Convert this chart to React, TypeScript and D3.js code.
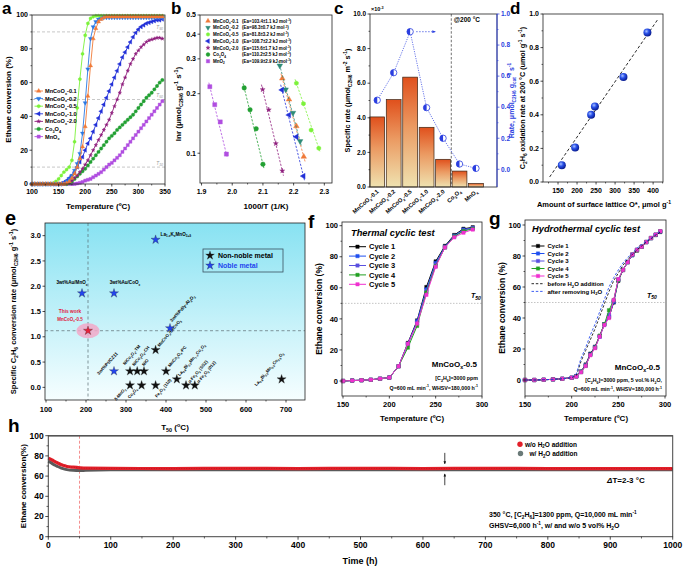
import React from "react";
import * as d3 from "d3";

const FF = "'Liberation Sans', Arial, Helvetica, sans-serif";

// ================= DATA =================
// Panel a: light-off curves
const aTemps = [100,105,110,115,120,125,130,135,140,145,150,155,160,165,170,175,180,185,190,195,200,205,210,215,220,225,230,235,240,245,250,255,260,265,270,275,280,285,290,295,300,305,310,315,320,325,330,335,340,345];
const aS01 = [0,0,0,0,0,0,0,0,0,0, 0,0,0,0.5,1.5,3.5,6,10,15,22, 34,52,70,86,92,96,97.5,98.5,99,99, 99,99,99,99,99,99,99,99,99,99, 99,99,99,99,99,99,99,99,99,99];
const aS02 = [0,0,0,0,0,0,0,0,0,0, 0,0,0.5,1.5,3,5,8,12,18,30, 48,68,86,93,96,97.5,98,98.5,98.5,98.5, 98.5,98.5,98.5,98.5,98.5,98.5,98.5,98.5,98.5,98.5, 98.5,98.5,98.5,98.5,98.5,98.5,98.5,98.5,98.5,98.5];
const aS05 = [0,0,0,0,0,0,0,0,0.5,1.5, 3,5,7,8.5,10,14,25,45,62,77, 88,95,98,99,99.5,99.5,99.5,99.5,99.5,99.5, 99.5,99.5,99.5,99.5,99.5,99.5,99.5,99.5,99.5,99.5, 99.5,99.5,99.5,99.5,99.5,99.5,99.5,99.5,99.5,99.5];
const aS10 = [0,0,0,0,0,0,0,0,0,0, 0,0.3,1,2,3.5,5,7,10,13,16, 20,24,27,31,35,39,43,47,51,55, 59,63,67,71,75,78,81,84,87,89.5, 91.5,93,94,95,95.5,96,96.5,97,97,97.5];
const aS20 = [0,0,0,0,0,0,0,0,0,0, 0,0,0,0.5,1,2,3.5,5,7,9, 11.5,14,17,20,23,26,29,32,35,38, 42,46,50,54,59,63,67,71,74,77, 79,81,82.5,84,85,85.5,86,86.5,86.5,86];
const aCo = [0,0,0,0,0,0,0,0,0,0, 0,0,0,0,0.5,1.5,3,4.5,6,7.5, 9,11,13,15,17,19,21,23,25,27, 28.5,30,32,33.5,35,36.5,38,39.5,41,43, 45,47,49,51,52.5,54,56,58,60,61.5];
const aMn = [0,0,0,0,0,0,0,0,0,0, 0,0,0,0,0,0,0,0.3,0.7,1.2, 2,2.5,3,4,5,6,7,8.5,10,11.5, 12.5,14,15.5,17,19,21,23,25,27,29, 31,33,35,37,39,41,43,45,47,49];
const aNames = ["MnCoO_{x}-0.1","MnCoO_{x}-0.2","MnCoO_{x}-0.5","MnCoO_{x}-1.0","MnCoO_{x}-2.0","Co_{3}O_{4}","MnO_{x}"];
const aValues = [aS01, aS02, aS05, aS10, aS20, aCo, aMn];
const aColors = ["#f07a38","#2a78e4","#7cf23a","#2230d8","#8e1c7c","#22a032","#b04ee0"];
const aShapes = ["triUp","triDown","hex","triLeft","star","circle","square"];
const aRefLevels = [90, 50, 10];

// Panel b: Arrhenius
const bNames = ["MnCoO_{x}-0.1","MnCoO_{x}-0.2","MnCoO_{x}-0.5","MnCoO_{x}-1.0","MnCoO_{x}-2.0","Co_{3}O_{4}","MnO_{2}"];
const bEa = ["(Ea=103.4±1.1 kJ mol^{-1})","(Ea=98.3±0.7 kJ mol^{-1})","(Ea=81.8±3.2 kJ mol^{-1})","(Ea=108.7±2.2 kJ mol^{-1})","(Ea=115.6±1.7 kJ mol^{-1})","(Ea=110.2±2.5 kJ mol^{-1})","(Ea=109.9±2.9 kJ mol^{-1})"];
const bX = [
  [2.163,2.185,2.209,2.233],
  [2.155,2.174,2.198,2.221],
  [2.209,2.232,2.257,2.282],
  [2.162,2.185,2.209,2.232],
  [2.099,2.119,2.142,2.163],
  [2.039,2.058,2.078,2.100],
  [1.927,1.943,1.961,1.981],
];
const bY = [
  [0.239,0.187,0.137,0.096],
  [0.277,0.210,0.160,0.115],
  [0.226,0.178,0.131,0.106],
  [0.209,0.156,0.121,0.0766],
  [0.210,0.166,0.112,0.0815],
  [0.214,0.166,0.133,0.088],
  [0.217,0.176,0.144,0.099],
];
const bColors = ["#f07a38","#2e8c78","#7cf23a","#2230d8","#8e1c7c","#22a032","#b04ee0"];
const bShapes = ["triUp","triDown","hex","triLeft","star","circle","square"];

// Panel c: bars + rate
const cCats = ["MnCoO_{x}-0.1","MnCoO_{x}-0.2","MnCoO_{x}-0.5","MnCoO_{x}-1.0","MnCoO_{x}-2.0","Co_{3}O_{4}","MnO_{x}"];
const cSpecific = [4.05, 5.05, 6.35, 3.45, 1.6, 0.92, 0.2];
const cRate = [0.445, 0.622, 0.886, 0.397, 0.2, 0.034, 0.006];

// Panel d
const dO = [160, 195, 237, 247, 322, 385];
const dRate = [0.1, 0.205, 0.40, 0.45, 0.625, 0.89];
const dFitO = [128, 413];
const dFitRate = [0.03, 0.97];

// Panel e
const eNobleT = [190, 270, 374, 410, 270];
const eNobleR = [1.86, 1.86, 2.92, 1.17, 0.32];
const eNobleLabels = ["3wt%Au/MnO_{x}","3wt%Au/CoO_{x}","La_{1-x}K_{x}MnO_{3+δ}","3wt%Pd/γ-Al_{2}O_{3}","3wt%Pt/CZ11"];
const eNonNobleT = [310, 328, 345, 374, 400, 310, 339, 374, 427, 450, 472, 689];
const eNonNobleR = [0.32, 0.32, 0.32, 0.74, 0.32, 0.04, 0.04, 0.04, 0.16, 0.04, 0.04, 0.16];
const eNonNobleLabels = ["NiCo_{2}O_{4}-TM","NiCo_{2}O_{4}-CH","NiO","MnCoO_{x}/FeCoO_{3}","MnCo_{2}O_{4}-PC","δ-MnO_{2}","Co_{3}O_{4}","Fe_{2}O_{3} (110)","La_{0.8}Bi_{0.2}Mn_{1-x}Co_{x}O_{3}","α-Fe_{2}O_{3} (SSZ)","α-Fe_{2}O_{3} (012)","La_{0.8}Bi_{0.2}Mn_{0.5}Co_{0.5}O_{3}"];
const eThisWorkT = 205;
const eThisWorkR = 1.12;

// Panel f
const fTemps = [150,160,170,180,190,200,210,220,230,240,250,260,270,280,290];
const fC1 = [0,0.3,0.5,0.8,1.5,2.2,9.5,24.5,39,60.5,77,87,94,98,99];
const fC2 = [0,0.3,0.5,0.8,1.5,2.2,9.5,24,38.5,59,76,86.5,93.5,97.5,98.5];
const fC3 = [0,0.3,0.5,0.8,1.5,2.2,9.5,23.5,37.5,58,75,86,93,97,98.5];
const fC4 = [0,0.3,0.5,0.8,1.5,2.2,9.5,21.5,35.5,57,74,86,93,96.5,98];
const fC5 = [0,0.3,0.5,0.8,1.5,2.2,9.5,24,37,55.5,73.5,86,92.5,95.5,97.5];
const cycleNames = ["Cycle 1","Cycle 2","Cycle 3","Cycle 4","Cycle 5"];
const cycleColors = ["#000000","#1f4ff0","#5a50e0","#22a022","#f030d0"];

// Panel g
const gTemps = [150,160,170,180,190,200,205,210,215,220,225,230,235,240,245,250,255,260,265,270,275,280,285,290,295];
const gC1 = [0,0,0.2,0.4,0.8,1.5,2.5,5.5,10,17,21.5,28.5,36,40.5,50,64,71,76,80.5,83.5,86,89,91.5,93.5,95.5];
const gC2 = [0,0,0.2,0.4,0.8,1.5,2.4,5.3,9.5,16.5,21,28,36,41,50.5,64.5,71,76,80.5,84,86,89,91.5,93.7,95.8];
const gC3 = [0,0,0.2,0.4,0.8,1.5,2.3,5.2,9.3,16.3,21,28,35.5,42,51,65,71,76,81,84,86,89,91.6,93.8,96];
const gC4 = [0,0,0.2,0.4,0.8,1.5,2.3,5.1,9.2,16.2,20.8,28.5,36,45,51.5,64.5,71,76,81,84,86,89,91.6,93.8,96];
const gC5 = [0,0,0.2,0.4,0.8,1.5,2.2,5,9,16,20.5,28,35.5,40,51.6,65,71,76,81,84,86,89,91.6,93.8,96];
const gBefore = [0,0,0.2,0.4,0.8,1.5,3,12,19,26,33,41,49,57,64,69,74,78,81,84,86.5,89,91,93.5,95.5];
const gAfter = [0,0,0.2,0.4,0.8,1.6,4,14,21,29,36,44,52,60,66,71,75.5,79,82,85,87.5,89.5,91.5,94,96];

// Panel h
const hTimeRed = [0,3,6,10,15,20,25,30,40,50,60,100,200,300,400,500,600,700,800,900,1000];
const hRed = [77.8,77,76,74.5,73,71.5,70.5,69.5,68.8,68.2,67.8,67.6,67.5,67.6,67.5,67.6,67.5,67.6,67.5,67.5,67.5];
const hTimeGray = [0,3,6,10,15,20,25,30,40,50,60,100,200,300,400,500,600,700,800,900,1000];
const hGray = [74.8,73.8,72.6,71,69.5,68.2,67.2,66.4,65.7,65.5,65.8,66.2,66.3,66.3,66.2,66.3,66.3,66.2,66.3,66.3,66.3];
const hSwitchT = 50;
const hArrowT = 635;
const hArrowDown = [83, 69.8];
const hArrowUp = [51, 64.5];

// ================= HELPERS =================
function rich(s: string, fs: number) {
  const parts: any[] = [];
  const re = /([_^])\{([^}]*)\}/g;
  let last = 0;
  let m: RegExpExecArray | null;
  let shift = 0;
  let k = 0;
  while ((m = re.exec(s))) {
    if (m.index > last) {
      parts.push(<tspan key={k++} dy={-shift}>{s.slice(last, m.index)}</tspan>);
      shift = 0;
    }
    const d = m[1] === "_" ? fs * 0.3 : -fs * 0.42;
    parts.push(<tspan key={k++} dy={d - shift} fontSize={fs * 0.68}>{m[2]}</tspan>);
    shift = d;
    last = re.lastIndex;
  }
  if (last < s.length) parts.push(<tspan key={k++} dy={-shift}>{s.slice(last)}</tspan>);
  return parts;
}

function hexPath(r: number) {
  const p = d3.path();
  for (let k = 0; k < 6; k++) {
    const a = Math.PI / 6 + (k * Math.PI) / 3;
    const px = r * Math.cos(a), py = r * Math.sin(a);
    if (k === 0) p.moveTo(px, py); else p.lineTo(px, py);
  }
  p.closePath();
  return p.toString();
}

function Marker({ type, x, y, r, fill, stroke, sw = 0.4 }: any) {
  let d = "";
  let rot = 0;
  if (type === "hex") d = hexPath(r);
  else if (type === "circle") d = d3.symbol().type(d3.symbolCircle).size(Math.PI * r * r)()!;
  else if (type === "square") d = d3.symbol().type(d3.symbolSquare).size(4 * r * r * 0.8)()!;
  else if (type === "star") d = d3.symbol().type(d3.symbolStar).size((r * r * 1.3) / 0.89)()!;
  else {
    d = d3.symbol().type(d3.symbolTriangle).size(r * r * 2.6)()!;
    if (type === "triDown") rot = 180;
    if (type === "triLeft") rot = -90;
  }
  return <path d={d} transform={`translate(${x},${y}) rotate(${rot})`} fill={fill} stroke={stroke || fill} strokeWidth={sw} />;
}

function AxisY({ scale, x, ticks, fmt, side = "left", fs = 7, color = "#000", minor = [], len = 2.5 }: any) {
  const dir = side === "left" ? -1 : 1;
  return (
    <g>
      {ticks.map((t: number, i: number) => (
        <g key={i}>
          <line x1={x} x2={x + dir * len} y1={scale(t)} y2={scale(t)} stroke={color} strokeWidth={0.7} />
          <text x={x + dir * (len + 1.5)} y={scale(t)} dy="0.35em" textAnchor={side === "left" ? "end" : "start"} fontSize={fs} fontWeight="bold" fill={color}>{fmt ? fmt(t) : t}</text>
        </g>
      ))}
      {minor.map((t: number, i: number) => (
        <line key={"m" + i} x1={x} x2={x + dir * len * 0.6} y1={scale(t)} y2={scale(t)} stroke={color} strokeWidth={0.6} />
      ))}
    </g>
  );
}

function AxisX({ scale, y, ticks, fmt, fs = 7, minor = [], len = 2.5, labelY }: any) {
  return (
    <g>
      {ticks.map((t: number, i: number) => (
        <g key={i}>
          <line x1={scale(t)} x2={scale(t)} y1={y} y2={y + len} stroke="#000" strokeWidth={0.7} />
          <text x={scale(t)} y={labelY ?? y + len + fs + 1} textAnchor="middle" fontSize={fs} fontWeight="bold">{fmt ? fmt(t) : t}</text>
        </g>
      ))}
      {minor.map((t: number, i: number) => (
        <line key={"m" + i} x1={scale(t)} x2={scale(t)} y1={y} y2={y + len * 0.6} stroke="#000" strokeWidth={0.6} />
      ))}
    </g>
  );
}

const mids = (arr: number[]) => arr.slice(0, -1).map((v, i) => (v + arr[i + 1]) / 2);

function Frame({ x0, x1, y0, y1, stroke = "#222", sw = 0.8 }: any) {
  return <rect x={x0} y={y0} width={x1 - x0} height={y1 - y0} fill="none" stroke={stroke} strokeWidth={sw} />;
}

function Letter({ x, y, t, fs = 17 }: any) {
  return <text x={x} y={y} fontSize={fs} fontWeight="bold">{t}</text>;
}

// ================= PANELS =================
function PanelA() {
  const L = 32, R = 165, T = 15, B = 184;
  const x = d3.scaleLinear().domain([100, 350]).range([L, R]);
  const y = d3.scaleLinear().domain([0, 100]).range([B, T]);
  const line = d3.line<number>().x((_, i) => x(aTemps[i])).y((d) => y(d));
  const order = [6, 5, 4, 3, 2, 1, 0];
  return (
    <g>
      {aRefLevels.map((v) => (
        <g key={v}>
          <line x1={L} x2={R} y1={y(v)} y2={y(v)} stroke="#b0b0b0" strokeDasharray="3,2" strokeWidth={0.7} />
          <text x={R - 2} y={y(v) - 2.5} fontSize={4.8} fill="#999" fontStyle="italic" textAnchor="end">T<tspan fontSize={3.4} dy={1}>{v}</tspan></text>
        </g>
      ))}
      {order.map((si) => (
        <g key={si}>
          <path d={line(aValues[si])!} fill="none" stroke={aColors[si]} strokeWidth={0.9} />
          {aValues[si].map((v, i) => (
            <Marker key={i} type={aShapes[si]} x={x(aTemps[i])} y={y(v)} r={1.7} fill={aColors[si]} />
          ))}
        </g>
      ))}
      <Frame x0={L} x1={R} y0={T} y1={B} />
      <AxisY scale={y} x={L} ticks={[0, 20, 40, 60, 80, 100]} minor={[10, 30, 50, 70, 90]} fs={7} />
      <AxisX scale={x} y={B} ticks={[100, 150, 200, 250, 300, 350]} minor={mids([100, 150, 200, 250, 300, 350])} fs={7} labelY={194} />
      <text x={98} y={209} textAnchor="middle" fontSize={8} fontWeight="bold">Temperature (ºC)</text>
      <text transform={`translate(11,${(T + B) / 2}) rotate(-90)`} textAnchor="middle" fontSize={8} fontWeight="bold">Ethane conversion (%)</text>
      {aNames.map((n, i) => {
        const yy = 91 + i * 7.6;
        return (
          <g key={i}>
            <line x1={34.5} x2={43} y1={yy} y2={yy} stroke={aColors[i]} strokeWidth={0.9} />
            <Marker type={aShapes[i]} x={38.7} y={yy} r={1.8} fill={aColors[i]} />
            <text x={45} y={yy + 2} fontSize={5.6} fontWeight="bold">{rich(n, 5.6)}</text>
          </g>
        );
      })}
      <Letter x={2} y={14} t="a" />
    </g>
  );
}

function PanelB() {
  const L = 200, R = 332, T = 15, B = 183;
  const x = d3.scaleLinear().domain([1.895, 2.325]).range([L, R]);
  const y = d3.scaleLog().domain([0.0707, 0.5]).range([B, T]);
  return (
    <g>
      {bX.map((xs, si) => {
        const n = xs.length;
        const ext = 0.06;
        const x0 = xs[0] - (xs[n - 1] - xs[0]) * ext;
        const x1 = xs[n - 1] + (xs[n - 1] - xs[0]) * ext;
        const ly0 = Math.log(bY[si][0]), ly1 = Math.log(bY[si][n - 1]);
        const y0 = Math.exp(ly0 - (ly1 - ly0) * ext), y1 = Math.exp(ly1 + (ly1 - ly0) * ext);
        return (
          <g key={si}>
            <line x1={x(x0)} y1={y(y0)} x2={x(x1)} y2={y(y1)} stroke={bColors[si]} strokeWidth={0.8} strokeDasharray="2.2,1.5" />
            {xs.map((xv, i) => (
              <Marker key={i} type={bShapes[si]} x={x(xv)} y={y(bY[si][i])} r={2.3} fill={bColors[si]} />
            ))}
          </g>
        );
      })}
      <Frame x0={L} x1={R} y0={T} y1={B} />
      <AxisY scale={y} x={L} ticks={[0.1, 0.2, 0.3, 0.4, 0.5]} fs={7} />
      <AxisX scale={x} y={B} ticks={[1.9, 2.0, 2.1, 2.2, 2.3]} fmt={d3.format(".1f")} minor={[1.95, 2.05, 2.15, 2.25]} fs={7} labelY={194} />
      <text x={266} y={209} textAnchor="middle" fontSize={8} fontWeight="bold">1000/T (1/K)</text>
      <text transform={`translate(181,${(T + B) / 2 + 5}) rotate(-90)`} textAnchor="middle" fontSize={8} fontWeight="bold">{rich("lnr (μmol_{C2H6} g^{-1} s^{-1})", 8)}</text>
      {bNames.map((n, i) => {
        const yy = 21 + i * 6.7;
        return (
          <g key={i}>
            <Marker type={bShapes[i]} x={208} y={yy} r={1.9} fill={bColors[i]} />
            <text x={213} y={yy + 1.7} fontSize={4.5} fontWeight="bold">{rich(n, 4.5)}</text>
            <text x={242} y={yy + 1.7} fontSize={4.5} fontWeight="bold">{rich(bEa[i], 4.5)}</text>
          </g>
        );
      })}
      <Letter x={171} y={14} t="b" />
    </g>
  );
}

function PanelC() {
  const L = 370, R = 497, T = 14, B = 187;
  const x = d3.scaleBand().domain(cCats).range([369, 484.2]).paddingInner(0.1).paddingOuter(0.05);
  const yl = d3.scaleLinear().domain([0, 10]).range([B, T]);
  const yr = d3.scaleLinear().domain([-0.114, 1.0]).range([B, T]);
  const blue = "#2a3ee0";
  const cx = (c: string) => x(c)! + x.bandwidth() / 2;
  const rateLine = d3.line<number>().x((_, i) => cx(cCats[i])).y((d) => yr(d));
  const sepX = (x(cCats[4])! + x.bandwidth() + x(cCats[5])!) / 2;
  return (
    <g>
      {cCats.map((c, i) => (
        <rect key={i} x={x(c)} y={yl(cSpecific[i])} width={x.bandwidth()} height={B - yl(cSpecific[i])} fill="url(#barGrad)" stroke="#3a2414" strokeWidth={0.7} />
      ))}
      <line x1={sepX} x2={sepX} y1={T} y2={B} stroke="#333" strokeWidth={0.7} strokeDasharray="2.5,1.8" />
      <text x={sepX + 2.5} y={22} fontSize={6.5} fontWeight="bold">@200 °C</text>
      <path d={rateLine(cRate)!} fill="none" stroke={blue} strokeWidth={0.7} strokeDasharray="1.2,1.2" />
      <line x1={cx(cCats[2]) + 6} x2={cx(cCats[2]) + 25} y1={yr(cRate[2])} y2={yr(cRate[2])} stroke={blue} strokeWidth={0.7} strokeDasharray="1.5,1.5" markerEnd="url(#arrowBlue)" />
      {cRate.map((v, i) => (
        <g key={i}>
          <circle cx={cx(cCats[i])} cy={yr(v)} r={3.2} fill="#ffffff" stroke={blue} strokeWidth={0.8} />
          <path d={`M${cx(cCats[i])},${yr(v) - 3.2} A3.2,3.2 0 0 0 ${cx(cCats[i])},${yr(v) + 3.2} Z`} fill={blue} />
        </g>
      ))}
      <Frame x0={L} x1={R} y0={T} y1={B} />
      <line x1={R} x2={R} y1={T} y2={B} stroke={blue} strokeWidth={0.9} />
      <AxisY scale={yl} x={L} ticks={[0, 2, 4, 6, 8, 10]} fmt={d3.format(".1f")} minor={[1, 3, 5, 7, 9]} fs={6.5} />
      <AxisY scale={yr} x={R} side="right" ticks={[0, 0.2, 0.4, 0.6, 0.8, 1.0]} fmt={d3.format(".1f")} minor={[0.1, 0.3, 0.5, 0.7, 0.9]} fs={6.5} color={blue} />
      <text x={371} y={11} fontSize={5.5} fontWeight="bold">{rich("×10^{-3}", 5.5)}</text>
      {cCats.map((c, i) => (
        <text key={i} transform={`translate(${cx(c) + 2},${B + 5}) rotate(-42)`} textAnchor="end" fontSize={5.8} fontWeight="bold">{rich(c, 5.8)}</text>
      ))}
      <text transform={`translate(350,${(T + B) / 2}) rotate(-90)`} textAnchor="middle" fontSize={7.3} fontWeight="bold">{rich("Specific rate (μmol_{C2H6} m^{-2} s^{-1})", 7.3)}</text>
      <text transform={`translate(514,${(T + B) / 2}) rotate(-90)`} textAnchor="middle" fontSize={7} fontWeight="bold" fill={blue}>{rich("Rate, μmol_{C2H6} g_{cat}^{-1} s^{-1}", 7)}</text>
      <Letter x={334} y={14} t="c" />
    </g>
  );
}

function PanelD() {
  const L = 543, R = 663, T = 14, B = 182;
  const x = d3.scaleLinear().domain([110.5, 426]).range([L, R]);
  const y = d3.scaleLinear().domain([0, 1]).range([B, T]);
  return (
    <g>
      <line x1={x(dFitO[0])} x2={x(dFitO[1])} y1={y(dFitRate[0])} y2={y(dFitRate[1])} stroke="#111" strokeWidth={0.9} strokeDasharray="3,2.2" />
      {dO.map((o, i) => (
        <circle key={i} cx={x(o)} cy={y(dRate[i])} r={4} fill="url(#ballGrad)" />
      ))}
      <Frame x0={L} x1={R} y0={T} y1={B} />
      <AxisY scale={y} x={L} ticks={[0, 0.2, 0.4, 0.6, 0.8, 1.0]} fmt={d3.format(".1f")} minor={[0.1, 0.3, 0.5, 0.7, 0.9]} fs={7} />
      <AxisX scale={x} y={B} ticks={[150, 200, 250, 300, 350, 400]} minor={[125, 175, 225, 275, 325, 375, 425]} fs={7} labelY={193} />
      <text x={604} y={207} textAnchor="middle" fontSize={7.5} fontWeight="bold">{rich("Amount of surface lattice O*, μmol g^{-1}", 7.5)}</text>
      <text transform={`translate(525,${(T + B) / 2}) rotate(-90)`} textAnchor="middle" fontSize={7.2} fontWeight="bold">{rich("C_{2}H_{6} oxidation rate at 200 °C (umol g^{-1} s^{-1})", 7.2)}</text>
      <Letter x={510} y={14} t="d" />
    </g>
  );
}

function PanelE() {
  const L = 45, R = 305, T = 223, B = 400;
  const x = d3.scaleLinear().domain([97.5, 747.5]).range([L, R]);
  const y = d3.scaleLinear().domain([-0.25, 3.25]).range([B, T]);
  const blue = "#2244ee";
  const star = (cx: number, cy: number, fill: string, k: number | string) => (
    <Marker key={k} type="star" x={cx} y={cy} r={4.2} fill={fill} stroke="#222" sw={0.3} />
  );
  const nobleLab = [
    { dx: -10, dy: -9, rot: 0, a: "middle" },
    { dx: 11, dy: -9, rot: 0, a: "middle" },
    { dx: 5, dy: -4, rot: 0, a: "start" },
    { dx: 2, dy: -6, rot: -48, a: "start" },
    { dx: -15, dy: 4, rot: -48, a: "start" },
  ];
  const nnLab = [
    { dx: -5, dy: -6, a: "start" },
    { dx: -3, dy: -5, a: "start" },
    { dx: 0, dy: -5, a: "start" },
    { dx: 4, dy: -3, a: "start" },
    { dx: 4, dy: -4, a: "start" },
    { dx: -4, dy: 4, a: "end" },
    { dx: -4, dy: 4, a: "end" },
    { dx: 16, dy: -5, a: "end" },
    { dx: 3, dy: -3, a: "start" },
    { dx: 4, dy: -2, a: "start" },
    { dx: 4, dy: -2, a: "start" },
    { dx: -25, dy: 7, a: "start" },
  ];
  return (
    <g>
      <rect x={L} y={T} width={R - L} height={B - T} fill="url(#eGrad)" />
      <line x1={x(eThisWorkT)} x2={x(eThisWorkT)} y1={T} y2={B} stroke="#5a6a70" strokeWidth={0.7} strokeDasharray="3,2.5" />
      <line x1={L} x2={R} y1={y(eThisWorkR)} y2={y(eThisWorkR)} stroke="#5a6a70" strokeWidth={0.7} strokeDasharray="3,2.5" />
      <ellipse cx={x(eThisWorkT)} cy={y(eThisWorkR)} rx={11.5} ry={7.5} fill="#f2a8c8" opacity={0.85} />
      {eNonNobleT.map((t, i) => star(x(t), y(eNonNobleR[i]), "#111", "n" + i))}
      {eNonNobleLabels.map((lab, i) => (
        <text key={"nl" + i} transform={`translate(${x(eNonNobleT[i]) + nnLab[i].dx},${y(eNonNobleR[i]) + nnLab[i].dy}) rotate(-50)`} textAnchor={nnLab[i].a as any} fontSize={4.3} fontWeight="bold">{rich(lab, 4.3)}</text>
      ))}
      {eNobleT.map((t, i) => star(x(t), y(eNobleR[i]), blue, "b" + i))}
      {eNobleLabels.map((lab, i) => (
        <text key={"bl" + i} transform={`translate(${x(eNobleT[i]) + nobleLab[i].dx},${y(eNobleR[i]) + nobleLab[i].dy}) rotate(${nobleLab[i].rot})`} textAnchor={nobleLab[i].a as any} fontSize={4.6} fontWeight="bold">{rich(lab, 4.6)}</text>
      ))}
      {star(x(eThisWorkT), y(eThisWorkR), "#e8203a", "tw")}
      <text x={x(eThisWorkT) - 18} y={313} textAnchor="middle" fontSize={4.8} fontWeight="bold" fill="#e0203a">This work</text>
      <text x={x(eThisWorkT) - 18} y={320.5} textAnchor="middle" fontSize={4.5} fontWeight="bold" fill="#e0203a">{rich("MnCoO_{x}-0.5", 4.5)}</text>
      <rect x={203} y={249} width={80} height={23} fill="none" stroke="#3a5060" strokeWidth={0.8} />
      <Marker type="star" x={210} y={255.5} r={4} fill="#111" stroke="#222" sw={0.3} />
      <text x={218} y={258} fontSize={7} fontWeight="bold">Non-noble metal</text>
      <Marker type="star" x={210} y={265.5} r={4} fill={blue} stroke="#222" sw={0.3} />
      <text x={218} y={268} fontSize={7} fontWeight="bold" fill={blue}>Noble metal</text>
      <Frame x0={L} x1={R} y0={T} y1={B} />
      <AxisY scale={y} x={L} ticks={[0, 0.5, 1, 1.5, 2, 2.5, 3]} fmt={d3.format(".1f")} fs={7.5} />
      <AxisX scale={x} y={B} ticks={[100, 200, 300, 400, 500, 600, 700]} minor={[150, 250, 350, 450, 550, 650]} fs={7.5} labelY={412} />
      <text x={175} y={430} textAnchor="middle" fontSize={8} fontWeight="bold">{rich("T_{50} (^{o}C)", 8)}</text>
      <text transform={`translate(16,${(T + B) / 2}) rotate(-90)`} textAnchor="middle" fontSize={7.5} fontWeight="bold">{rich("Specific C_{2}H_{6} conversion rate (μmol_{C2H6} g^{-1} s^{-1})", 7.5)}</text>
      <Letter x={5} y={225} t="e" fs={20} />
    </g>
  );
}

function CycleLegendAndCurves({ x, y, temps, series, legendX, legendY0, legendStep, fs, lineLen }: any) {
  const line = d3.line<number>().x((_, i) => x(temps[i])).y((d) => y(d));
  return (
    <g>
      {series.map((vals: number[], si: number) => (
        <g key={si}>
          <path d={line(vals)!} fill="none" stroke={cycleColors[si]} strokeWidth={1} />
          {vals.map((v, i) => (
            <Marker key={i} type="square" x={x(temps[i])} y={y(v)} r={1.9} fill={cycleColors[si]} />
          ))}
        </g>
      ))}
      {cycleNames.map((n, i) => {
        const yy = legendY0 + i * legendStep;
        return (
          <g key={i}>
            <line x1={legendX} x2={legendX + lineLen} y1={yy} y2={yy} stroke={cycleColors[i]} strokeWidth={1} />
            <Marker type="square" x={legendX + lineLen / 2} y={yy} r={1.9} fill={cycleColors[i]} />
            <text x={legendX + lineLen + 3} y={yy + fs * 0.36} fontSize={fs} fontWeight="bold">{n}</text>
          </g>
        );
      })}
    </g>
  );
}

function PanelF() {
  const L = 342, R = 482, T = 222, B = 396;
  const x = d3.scaleLinear().domain([150, 300]).range([343, 482]);
  const y = d3.scaleLinear().domain([0, 100]).range([381, 225.7]);
  return (
    <g>
      <line x1={L} x2={R} y1={y(50)} y2={y(50)} stroke="#aaa" strokeWidth={0.7} strokeDasharray="1.5,1.5" />
      <text x={471} y={y(50) - 5} fontSize={7} fontStyle="italic" fontWeight="bold">T<tspan fontSize={5} dy={1.8}>50</tspan></text>
      <CycleLegendAndCurves x={x} y={y} temps={fTemps} series={[fC1, fC2, fC3, fC4, fC5]} legendX={349} legendY0={246.7} legendStep={9.4} fs={7.5} lineLen={17} />
      <text x={351} y={236} fontSize={9.3} fontWeight="bold" fontStyle="italic">Thermal cyclic test</text>
      <text x={477} y={367} textAnchor="end" fontSize={8} fontWeight="bold">{rich("MnCoO_{x}-0.5", 8)}</text>
      <text x={478} y={380} textAnchor="end" fontSize={5.3} fontWeight="bold">{rich("[C_{2}H_{6}]=3000 ppm", 5.3)}</text>
      <text x={478} y={389.5} textAnchor="end" fontSize={5.3} fontWeight="bold">{rich("Q=600 mL min^{-1}, WHSV=180,000 h^{-1}", 5.3)}</text>
      <Frame x0={L} x1={R} y0={T} y1={B} />
      <AxisY scale={y} x={L} ticks={[0, 20, 40, 60, 80, 100]} minor={[10, 30, 50, 70, 90]} fs={7.5} />
      <AxisX scale={x} y={B} ticks={[150, 200, 250, 300]} minor={[175, 225, 275]} fs={7.5} labelY={407} />
      <text x={412} y={421} textAnchor="middle" fontSize={8} fontWeight="bold">Temperature (ºC)</text>
      <text transform={`translate(322,${(T + B) / 2}) rotate(-90)`} textAnchor="middle" fontSize={8.5} fontWeight="bold">Ethane conversion (%)</text>
      <Letter x={308} y={228} t="f" fs={19} />
    </g>
  );
}

function PanelG() {
  const L = 525, R = 666, T = 220, B = 396;
  const x = d3.scaleLinear().domain([150, 300]).range([525, 665]);
  const y = d3.scaleLinear().domain([0, 100]).range([380, 225]);
  const line = d3.line<number>().x((_, i) => x(gTemps[i])).y((d) => y(d));
  const legY = [246, 253.3, 260.7, 268.3, 276, 283.7, 291.4];
  return (
    <g>
      <line x1={L} x2={R} y1={y(50)} y2={y(50)} stroke="#aaa" strokeWidth={0.7} strokeDasharray="1.5,1.5" />
      <text x={647} y={y(50) - 5} fontSize={7} fontStyle="italic" fontWeight="bold">T<tspan fontSize={5} dy={1.8}>50</tspan></text>
      <CycleLegendAndCurves x={x} y={y} temps={gTemps} series={[gC1, gC2, gC3, gC4, gC5]} legendX={531.5} legendY0={246} legendStep={7.5} fs={6} lineLen={13} />
      <path d={line(gBefore)!} fill="none" stroke="#111" strokeWidth={0.9} strokeDasharray="2.5,1.8" />
      <path d={line(gAfter)!} fill="none" stroke="#2a4ef0" strokeWidth={0.9} strokeDasharray="2.5,1.8" />
      <line x1={531.5} x2={544.5} y1={legY[5]} y2={legY[5]} stroke="#111" strokeWidth={0.9} strokeDasharray="2.5,1.8" />
      <text x={547.5} y={legY[5] + 2.1} fontSize={6} fontWeight="bold">{rich("before H_{2}O addition", 6)}</text>
      <line x1={531.5} x2={544.5} y1={legY[6]} y2={legY[6]} stroke="#2a4ef0" strokeWidth={0.9} strokeDasharray="2.5,1.8" />
      <text x={547.5} y={legY[6] + 2.1} fontSize={6} fontWeight="bold">{rich("after removing H_{2}O", 6)}</text>
      <text x={532} y={232} fontSize={9.3} fontWeight="bold" fontStyle="italic">Hydrothermal cyclic test</text>
      <text x={660} y={370} textAnchor="end" fontSize={8} fontWeight="bold">{rich("MnCoO_{x}-0.5", 8)}</text>
      <text x={662} y={382} textAnchor="end" fontSize={5.3} fontWeight="bold">{rich("[C_{2}H_{6}]=3000 ppm, 5 vol.% H_{2}O,", 5.3)}</text>
      <text x={662} y={391} textAnchor="end" fontSize={5.3} fontWeight="bold">{rich("Q=600 mL min^{-1}, WHSV=180,000 h^{-1}", 5.3)}</text>
      <Frame x0={L} x1={R} y0={T} y1={B} />
      <AxisY scale={y} x={L} ticks={[0, 20, 40, 60, 80, 100]} minor={[10, 30, 50, 70, 90]} fs={7.5} />
      <AxisX scale={x} y={B} ticks={[150, 200, 250, 300]} minor={[175, 225, 275]} fs={7.5} labelY={407} />
      <text x={596} y={421} textAnchor="middle" fontSize={8} fontWeight="bold">Temperature (ºC)</text>
      <text transform={`translate(505,${(T + B) / 2}) rotate(-90)`} textAnchor="middle" fontSize={8.5} fontWeight="bold">Ethane conversion (%)</text>
      <Letter x={489} y={225} t="g" fs={19} />
    </g>
  );
}

function PanelH() {
  const L = 48.3, R = 672.7, T = 435.7, B = 536.7;
  const x = d3.scaleLinear().domain([0, 1000]).range([L, R]);
  const y = d3.scaleLinear().domain([0, 100]).range([B, T]);
  const lineR = d3.line<number>().x((_, i) => x(hTimeRed[i])).y((d) => y(d)).curve(d3.curveMonotoneX);
  const lineG = d3.line<number>().x((_, i) => x(hTimeGray[i])).y((d) => y(d)).curve(d3.curveMonotoneX);
  return (
    <g>
      <line x1={x(hSwitchT)} x2={x(hSwitchT)} y1={T} y2={B} stroke="#f07070" strokeWidth={0.8} strokeDasharray="3,2" />
      <path d={lineG(hGray)!} fill="none" stroke="#5a5a5a" strokeWidth={3} />
      <path d={lineR(hRed)!} fill="none" stroke="#e3202a" strokeWidth={3.2} />
      <path d={lineR(hRed)!} fill="none" stroke="#9a0d15" strokeWidth={0.9} strokeDasharray="0.8,1.7" opacity={0.7} />
      <line x1={x(hArrowT)} x2={x(hArrowT)} y1={y(hArrowDown[0])} y2={y(hArrowDown[1]) - 2.5} stroke="#111" strokeWidth={0.8} markerEnd="url(#arrowBlack)" />
      <line x1={x(hArrowT)} x2={x(hArrowT)} y1={y(hArrowUp[0])} y2={y(hArrowUp[1]) + 2.5} stroke="#111" strokeWidth={0.8} markerEnd="url(#arrowBlack)" />
      <circle cx={520} cy={444.3} r={2.7} fill="#e3202a" />
      <text x={525} y={446.5} fontSize={6.5} fontWeight="bold">{rich("w/o H_{2}O addition", 6.5)}</text>
      <circle cx={520.5} cy={453.5} r={2.7} fill="#6a7a78" />
      <text x={529.5} y={455.7} fontSize={6.5} fontWeight="bold">{rich("w/ H_{2}O addition", 6.5)}</text>
      <text x={607} y={483} fontSize={8} fontWeight="bold"><tspan fontStyle="italic">Δ</tspan>T=2-3 °C</text>
      <text x={489} y={517} fontSize={7} fontWeight="bold">{rich("350 °C, [C_{2}H_{6}]=1300 ppm, Q=10,000 mL min^{-1}", 7)}</text>
      <text x={489} y={528} fontSize={7} fontWeight="bold">{rich("GHSV=6,000 h^{-1}, w/ and w/o 5 vol% H_{2}O", 7)}</text>
      <rect x={L} y={T} width={R - L} height={B - T} fill="none" stroke="#444" strokeWidth={1} />
      <line x1={L} x2={R} y1={T} y2={T} stroke="#555" strokeWidth={1.6} />
      <AxisY scale={y} x={L} ticks={[0, 20, 40, 60, 80, 100]} minor={[10, 30, 50, 70, 90]} fs={8.5} len={3} />
      <AxisX scale={x} y={B} ticks={[0, 100, 200, 300, 400, 500, 600, 700, 800, 900, 1000]} minor={mids([0, 100, 200, 300, 400, 500, 600, 700, 800, 900, 1000])} fs={8.5} labelY={548} len={3} />
      <text x={360} y={564} textAnchor="middle" fontSize={9} fontWeight="bold">Time (h)</text>
      <text transform={`translate(26,${(T + B) / 2}) rotate(-90)`} textAnchor="middle" fontSize={8} fontWeight="bold">Ethane conversion(%)</text>
      <Letter x={8} y={432} t="h" fs={19} />
    </g>
  );
}

export default function App() {
  return (
    <svg width={685} height={569} viewBox="0 0 685 569" style={{ position: "absolute", left: 0, top: 0, background: "#fff" }} fontFamily={FF}>
      <defs>
        <linearGradient id="barGrad" x1="0" y1="0" x2="0" y2="1">
          <stop offset="0%" stopColor="#e0501c" />
          <stop offset="45%" stopColor="#eb9a62" />
          <stop offset="100%" stopColor="#efe2b0" />
        </linearGradient>
        <linearGradient id="eGrad" x1="0" y1="0" x2="0" y2="1">
          <stop offset="0%" stopColor="#88e2f2" />
          <stop offset="100%" stopColor="#f6feff" />
        </linearGradient>
        <radialGradient id="ballGrad" cx="0.38" cy="0.35" r="0.65">
          <stop offset="0%" stopColor="#a8c0ff" />
          <stop offset="45%" stopColor="#2850e8" />
          <stop offset="100%" stopColor="#0a1c90" />
        </radialGradient>
        <marker id="arrowBlue" viewBox="0 0 10 10" refX="8" refY="5" markerWidth="5" markerHeight="5" orient="auto">
          <path d="M0,1 L10,5 L0,9 Z" fill="#2a3ee0" />
        </marker>
        <marker id="arrowBlack" viewBox="0 0 10 10" refX="8" refY="5" markerWidth="4" markerHeight="5" orient="auto">
          <path d="M0,1 L10,5 L0,9 Z" fill="#111" />
        </marker>
      </defs>
      <PanelE />
      <PanelA />
      <PanelB />
      <PanelC />
      <PanelD />
      <PanelF />
      <PanelG />
      <PanelH />
    </svg>
  );
}
